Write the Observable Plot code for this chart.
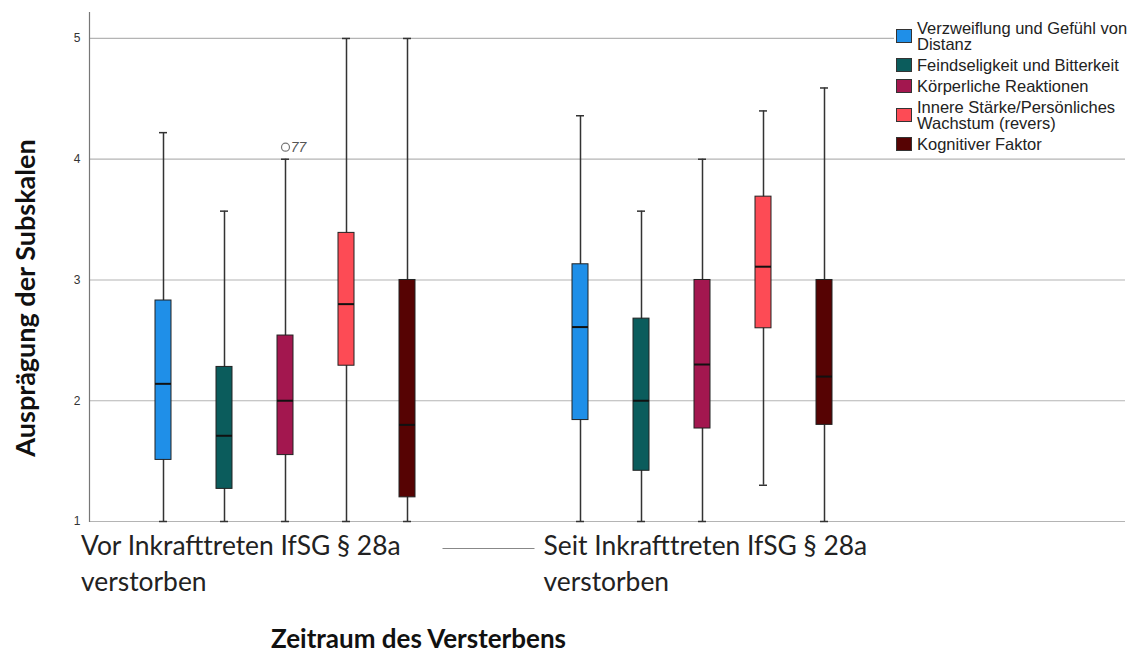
<!DOCTYPE html>
<html><head><meta charset="utf-8">
<script src="https://cdn.jsdelivr.net/npm/d3@7"></script>
<script src="https://cdn.jsdelivr.net/npm/@observablehq/plot@0.6"></script>
<style>
body{margin:0;background:#fff;}
#wrap{position:relative;width:1134px;height:655px;}
#wrap svg{position:absolute;left:0;top:0;}
#legend{position:absolute;left:894px;top:17px;background:#fff;font-family:"Liberation Sans",Arial,sans-serif;font-size:16.5px;color:#222;line-height:16px;padding:3px 0 6px 2px;width:238px;}
.item{display:flex;align-items:center;margin-bottom:5px;}
.item:last-child{margin-bottom:0;}
.sw{width:16px;height:14px;border:1px solid #333;margin-right:5px;flex:none;box-sizing:border-box;}
.tx{width:216px;}
</style></head><body><div id="wrap"><div id="legend"></div></div>
<script>
const groups = ["Vor Inkrafttreten IfSG § 28a\nverstorben", "Seit Inkrafttreten IfSG § 28a\nverstorben"];
const subscales = ["Verzweiflung und Gefühl von Distanz", "Feindseligkeit und Bitterkeit", "Körperliche Reaktionen", "Innere Stärke/Persönliches Wachstum (revers)", "Kognitiver Faktor"];
const colors = ["#1f8fe8", "#0b5c5c", "#a3174f", "#fd4b55", "#560303"];
const yTicks = [1, 2, 3, 4, 5];
const yTitle = "Ausprägung der Subskalen";
const xTitle = "Zeitraum des Versterbens";

const minVor  = [1.00, 1.00, 1.00, 1.00, 1.00];
const q1Vor   = [1.51, 1.27, 1.55, 2.29, 1.20];
const medVor  = [2.14, 1.71, 2.00, 2.80, 1.80];
const q3Vor   = [2.83, 2.28, 2.54, 3.39, 3.00];
const maxVor  = [4.22, 3.57, 4.00, 5.00, 5.00];

const minSeit = [1.00, 1.00, 1.00, 1.30, 1.00];
const q1Seit  = [1.84, 1.42, 1.77, 2.60, 1.80];
const medSeit = [2.61, 2.00, 2.30, 3.11, 2.20];
const q3Seit  = [3.13, 2.68, 3.00, 3.69, 3.00];
const maxSeit = [4.36, 3.57, 4.00, 4.40, 4.59];

const outlierGroup = [groups[0]];
const outlierSub = [subscales[2]];
const outlierValue = [4.10];
const outlierLabel = ["77"];

const statsBy = [[minVor, q1Vor, medVor, q3Vor, maxVor], [minSeit, q1Seit, medSeit, q3Seit, maxSeit]];
const stats = [];
groups.forEach((g, gi) => subscales.forEach((s, si) => {
  const [mn, q1, md, q3, mx] = statsBy[gi];
  stats.push({group: g, sub: s, min: mn[si], q1: q1[si], med: md[si], q3: q3[si], max: mx[si]});
}));
const outliers = outlierValue.map((v, i) => ({group: outlierGroup[i], sub: outlierSub[i], value: v, label: outlierLabel[i]}));

const sans = "Lato, 'Open Sans', sans-serif";
const common = {
  width: 1134, height: 655,
  marginTop: 12, marginBottom: 134, marginLeft: 89, marginRight: 9,
  style: {background: "transparent", fontFamily: "'Liberation Sans', Arial, sans-serif"},
  y: {domain: [1, 5.215], axis: null}
};

// base layer: grid, axis line, tick labels, titles
const base = Plot.plot({
  ...common,
  marks: [
    Plot.ruleY(yTicks, {stroke: "#b4b4b4", strokeWidth: 1.2}),
    Plot.frame({anchor: "left", stroke: "#777", strokeWidth: 1.2}),
    Plot.text(yTicks, {y: d => d, text: d => String(d), frameAnchor: "left", textAnchor: "end", dx: -9, fontSize: 12, fill: "#333"}),
    Plot.text([yTitle], {text: d => d, frameAnchor: "left", textAnchor: "middle", rotate: -90, dx: -63, dy: 31, fontSize: 27, fontWeight: "bold", fontFamily: sans, fill: "#111", lineAnchor: "middle"}),
    Plot.text([xTitle], {text: d => d, frameAnchor: "bottom", textAnchor: "middle", dx: -189, dy: 108.5, fontSize: 26, fontWeight: "bold", fontFamily: sans, fill: "#111", lineAnchor: "top"})
  ]
});

// box layer, faceted by period
const boxes = Plot.plot({
  ...common,
  fx: {domain: groups, range: [129.5, 857], paddingInner: 108 / 418, paddingOuter: 0, axis: null},
  x: {domain: subscales, paddingInner: 0.74, paddingOuter: 0.37, axis: null},
  color: {domain: subscales, range: colors},
  marks: [
    Plot.text([groups[0]], {fx: d => d, text: d => d, frameAnchor: "bottom-left", textAnchor: "start", lineAnchor: "top", dx: -49.5, dy: 7.5, fontSize: 26.4, lineHeight: 1.38, fontFamily: sans, fill: "#222"}),
    Plot.text([groups[1]], {fx: d => d, text: d => d, frameAnchor: "bottom-left", textAnchor: "start", lineAnchor: "top", dx: -4, dy: 7.5, fontSize: 26.4, lineHeight: 1.38, fontFamily: sans, fill: "#222"}),
    Plot.ruleY([{g: groups[0], y: 1}], {fx: "g", y: "y", dy: 27, insetLeft: 312.5, insetRight: -95.5, stroke: "#888", strokeWidth: 1.2}),
    Plot.ruleX(stats, {fx: "group", x: "sub", y1: "min", y2: "max", stroke: "#333", strokeWidth: 1.5}),
    Plot.tickY(stats, {fx: "group", x: "sub", y: "max", stroke: "#333", strokeWidth: 1.5, insetLeft: 4, insetRight: 4}),
    Plot.tickY(stats, {fx: "group", x: "sub", y: "min", stroke: "#333", strokeWidth: 1.5, insetLeft: 4, insetRight: 4}),
    Plot.barY(stats, {fx: "group", x: "sub", y1: "q1", y2: "q3", fill: "sub", stroke: "#222", strokeWidth: 1}),
    Plot.tickY(stats, {fx: "group", x: "sub", y: "med", stroke: "#111", strokeWidth: 2}),
    Plot.dot(outliers, {fx: "group", x: "sub", y: "value", r: 4, stroke: "#777", strokeWidth: 1.2}),
    Plot.text(outliers, {fx: "group", x: "sub", y: "value", text: "label", dx: 13, fontSize: 14, fill: "#555", fontStyle: "italic"})
  ]
});

const wrap = document.getElementById("wrap");
wrap.insertBefore(boxes, wrap.firstChild);
wrap.insertBefore(base, wrap.firstChild);

const legend = document.getElementById("legend");
subscales.forEach((s, i) => {
  const it = document.createElement("div");
  it.className = "item";
  const sw = document.createElement("div");
  sw.className = "sw";
  sw.style.background = colors[i];
  const tx = document.createElement("div");
  tx.className = "tx";
  tx.textContent = s;
  it.appendChild(sw); it.appendChild(tx);
  legend.appendChild(it);
});
</script>
</body></html>
